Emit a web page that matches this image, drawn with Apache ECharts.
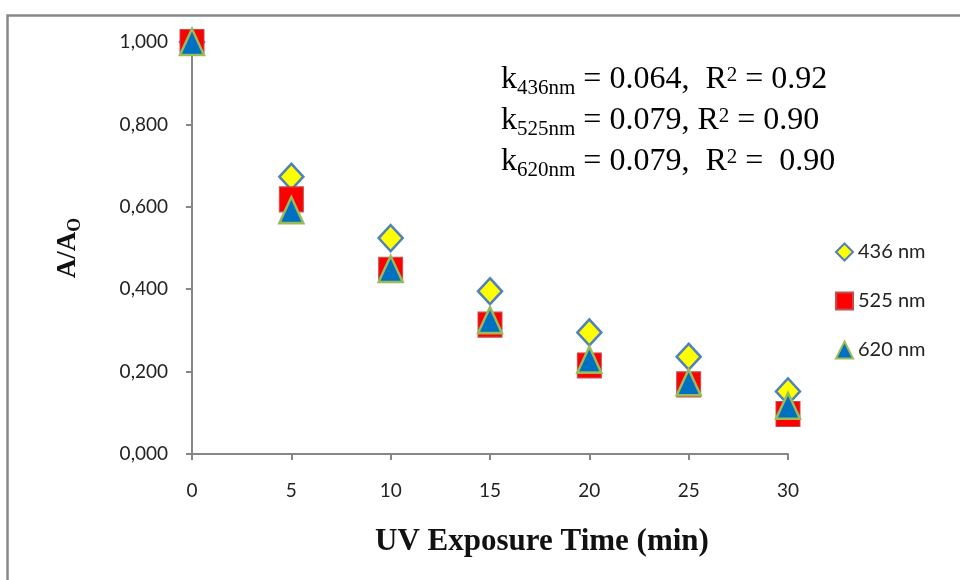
<!DOCTYPE html>
<html>
<head>
<meta charset="utf-8">
<script src="https://cdn.jsdelivr.net/npm/echarts@6/dist/echarts.min.js"></script>
<style>html,body{margin:0;padding:0;background:#fff;}#c{width:960px;height:580px;}</style>
</head>
<body>
<div id="c"></div>
<script>
const times = [0, 5, 10, 15, 20, 25, 30];
const a436 = [1.0, 0.673, 0.524, 0.395, 0.295, 0.236, 0.152];
const a525 = [1.0, 0.618, 0.447, 0.314, 0.215, 0.169, 0.097];
const a620 = [1.0, 0.592, 0.449, 0.325, 0.229, 0.174, 0.117];
const seriesNames = ['436 nm', '525 nm', '620 nm'];

const chart = echarts.init(document.getElementById('c'));
const pts = arr => times.map((t, i) => [t, arr[i]]);
const serif = '"Liberation Serif", "Times New Roman", serif';
const sans = 'Lato, "Open Sans", sans-serif';
const rich = {
  m: {fontFamily: serif, fontSize: 32, color: '#111', verticalAlign: 'middle', lineHeight: 38},
  s: {fontFamily: serif, fontSize: 21, color: '#111', verticalAlign: 'bottom', lineHeight: 38},
  p: {fontFamily: serif, fontSize: 21, color: '#111', verticalAlign: 'top', lineHeight: 34, padding: [4, 0, 0, 0]}
};
chart.setOption({
  animation: false,
  backgroundColor: '#fff',
  grid: {left: 192, top: 42, right: 172, bottom: 126},
  xAxis: {
    type: 'value', min: 0, max: 30, interval: 5,
    name: 'UV Exposure Time (min)', nameLocation: 'middle', nameGap: 72,
    nameTextStyle: {fontFamily: serif, fontWeight: 'bold', fontSize: 31, color: '#111', padding: [0, 0, 0, 104]},
    axisLine: {lineStyle: {color: '#868686', width: 2}},
    axisTick: {show: true, length: 6, lineStyle: {color: '#868686', width: 2}},
    axisLabel: {fontFamily: sans, fontSize: 19, color: '#222', margin: 27},
    splitLine: {show: false}
  },
  yAxis: {
    type: 'value', min: 0, max: 1, interval: 0.2,
    name: '{b|A/A}{o|O}', nameLocation: 'middle', nameGap: 108, nameRotate: 90,
    nameTextStyle: {
      rich: {
        b: {fontFamily: serif, fontWeight: 'bold', fontSize: 27, color: '#111', verticalAlign: 'middle', lineHeight: 32},
        o: {fontFamily: serif, fontWeight: 'bold', fontSize: 18, color: '#111', verticalAlign: 'bottom', lineHeight: 32}
      }
    },
    axisLine: {show: true, lineStyle: {color: '#868686', width: 2}},
    axisTick: {show: true, length: 6, lineStyle: {color: '#868686', width: 2}},
    axisLabel: {fontFamily: sans, fontSize: 19, color: '#222', margin: 24,
      formatter: v => v.toFixed(3).replace('.', ',')},
    splitLine: {show: false}
  },
  legend: {
    orient: 'vertical', left: 830, top: 237, itemGap: 29,
    itemWidth: 17, itemHeight: 17,
    textStyle: {fontFamily: sans, fontSize: 20, color: '#222'},
    data: seriesNames
  },
  series: [
    {name: seriesNames[0], type: 'scatter', data: pts(a436), symbol: 'diamond', symbolSize: [24, 26],
     itemStyle: {color: '#FFFF00', borderColor: '#4F81BD', borderWidth: 2.5, opacity: 1}, z: 2},
    {name: seriesNames[1], type: 'scatter', data: pts(a525), symbol: 'rect', symbolSize: [24, 25],
     itemStyle: {color: '#FF0000', borderColor: '#C0504D', borderWidth: 1, opacity: 1}, z: 3},
    {name: seriesNames[2], type: 'scatter', data: pts(a620), symbol: 'triangle', symbolSize: [24, 26],
     itemStyle: {color: '#0070C0', borderColor: '#9BBB59', borderWidth: 2.5, opacity: 1}, z: 4}
  ],
  graphic: [
    {type: 'rect', left: 5, top: 13, shape: {width: 1000, height: 620}, silent: true,
     style: {fill: 'none', stroke: '#888', lineWidth: 2.5}, z: -10},
    {type: 'text', left: 501, top: 61, style: {text: '{m|k}{s|436nm}{m| = 0.064,  R}{p|2}{m| = 0.92}', rich: rich}},
    {type: 'text', left: 501, top: 102, style: {text: '{m|k}{s|525nm}{m| = 0.079, R}{p|2}{m| = 0.90}', rich: rich}},
    {type: 'text', left: 501, top: 143, style: {text: '{m|k}{s|620nm}{m| = 0.079,  R}{p|2}{m| =  0.90}', rich: rich}}
  ]
});
</script>
</body>
</html>
